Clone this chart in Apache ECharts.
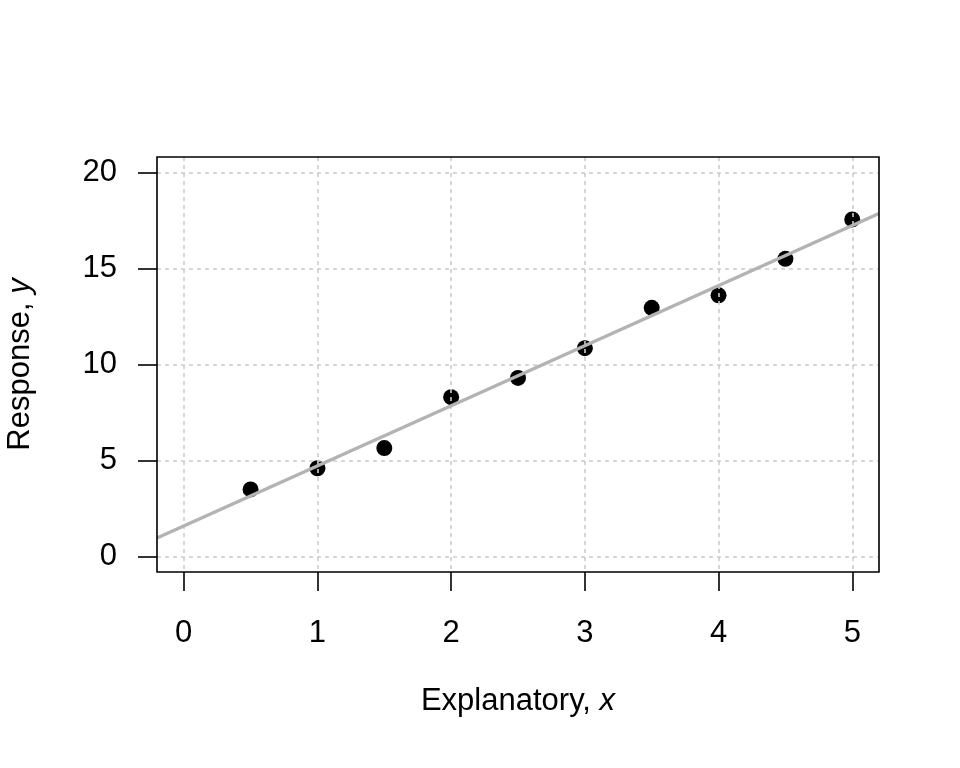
<!DOCTYPE html>
<html>
<head>
<meta charset="utf-8">
<script src="https://cdn.jsdelivr.net/npm/echarts@6/dist/echarts.min.js"></script>
<style>html,body{margin:0;padding:0;background:#fff}#c{width:960px;height:768px}</style>
</head>
<body>
<div id="c"></div>
<script>
var xValues = [0.5, 1, 1.5, 2, 2.5, 3, 3.5, 4, 4.5, 5];
var yValues = [3.5, 4.6, 5.65, 8.3, 9.3, 10.85, 12.95, 13.6, 15.5, 17.55];
var fitX = [-0.2, 5.2];
var fitY = [0.97, 17.86];
var xTicks = [0, 1, 2, 3, 4, 5];
var yTicks = [0, 5, 10, 15, 20];
var xRange = [-0.2, 5.2];
var yRange = [-0.8, 20.8];

var FONT = 'Liberation Sans, Arial, Helvetica, sans-serif';
var FS = 31;
var chart = echarts.init(document.getElementById('c'), null, {renderer: 'canvas'});
var points = xValues.map(function (x, i) { return [x, yValues[i]]; });
var fit = fitX.map(function (x, i) { return [x, fitY[i]]; });

chart.setOption({
  animation: false,
  backgroundColor: '#ffffff',
  grid: {left: 157, right: 81, top: 157, bottom: 196, show: true, borderColor: '#000', borderWidth: 1.6,
    backgroundColor: 'transparent', z: 10, containLabel: false, outerBoundsMode: 'none'},
  xAxis: {
    type: 'value', min: xRange[0], max: xRange[1], z: 3,
    axisLine: {show: false, onZero: false},
    axisTick: {show: true, inside: false, length: 19, lineStyle: {color: '#000', width: 1.6}, customValues: xTicks},
    axisLabel: {show: true, margin: 46, fontSize: FS, color: '#000', fontFamily: FONT, verticalAlign: 'top', customValues: xTicks},
    splitLine: {show: true, customValues: xTicks, lineStyle: {color: '#cccccc', width: 1.6, type: [4, 4]}},
    name: 'Explanatory, {i|x}', nameLocation: 'middle', nameGap: 114,
    nameTextStyle: {fontSize: FS, color: '#000', fontFamily: FONT, verticalAlign: 'top',
      rich: {i: {fontSize: FS, fontStyle: 'italic', color: '#000', fontFamily: FONT}}}
  },
  yAxis: {
    type: 'value', min: yRange[0], max: yRange[1], z: 3,
    axisLine: {show: false, onZero: false},
    axisTick: {show: true, inside: false, length: 19, lineStyle: {color: '#000', width: 1.6}, customValues: yTicks},
    axisLabel: {show: true, margin: 40, fontSize: FS, color: '#000', fontFamily: FONT, customValues: yTicks},
    splitLine: {show: true, customValues: yTicks, lineStyle: {color: '#cccccc', width: 1.6, type: [4, 4]}},
    name: 'Response, {i|y}', nameLocation: 'middle', nameGap: 121,
    nameTextStyle: {fontSize: FS, color: '#000', fontFamily: FONT,
      rich: {i: {fontSize: FS, fontStyle: 'italic', color: '#000', fontFamily: FONT}}}
  },
  series: [
    {type: 'scatter', data: points, symbol: 'circle', symbolSize: 16, itemStyle: {color: '#000', opacity: 1}, z: 2, silent: true},
    {type: 'line', data: fit, showSymbol: false, symbol: 'none', lineStyle: {color: '#b3b3b3', width: 3.5}, z: 5, silent: true}
  ]
});
</script>
</body>
</html>
